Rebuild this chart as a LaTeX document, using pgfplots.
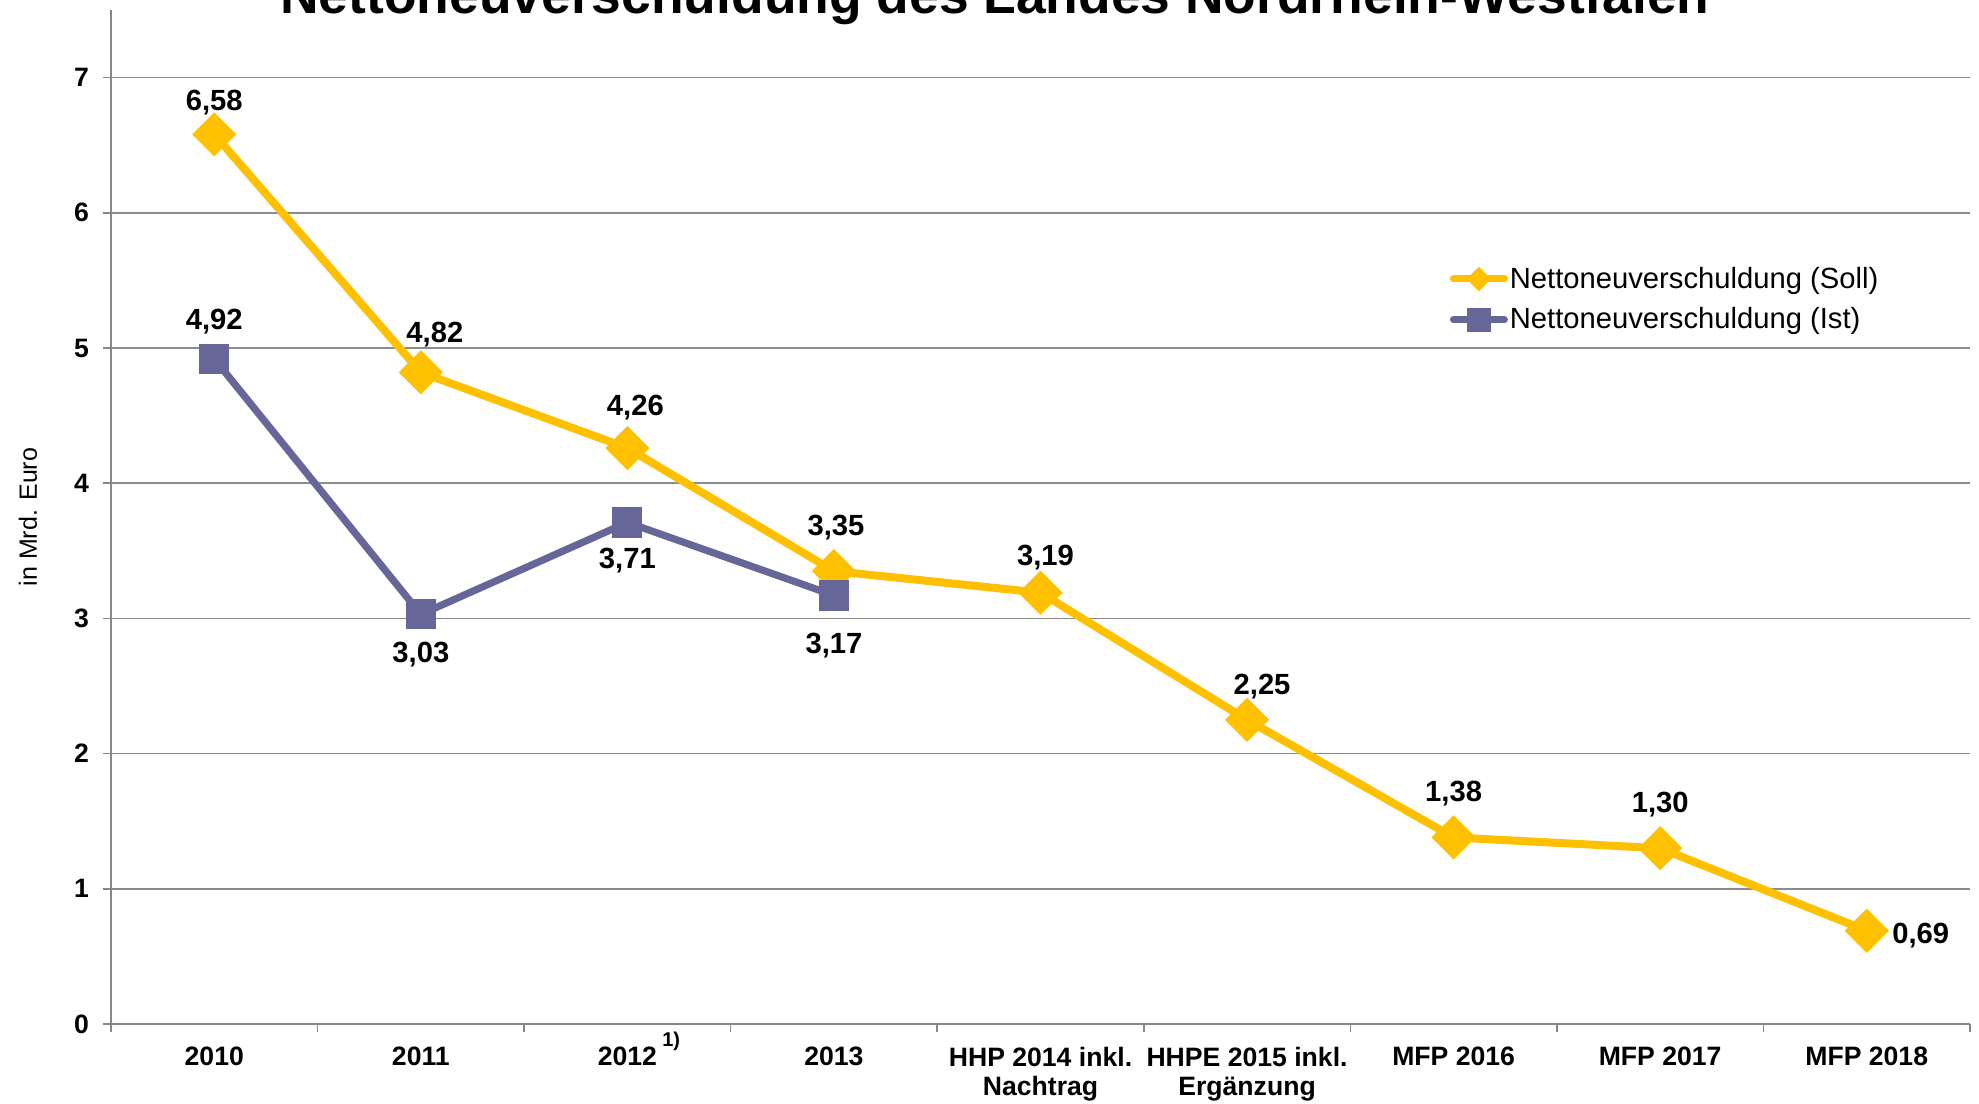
\documentclass[border=0pt]{standalone}
\usepackage{fontspec}
\setmainfont{Liberation Sans}
\usepackage{pgfplots}
\pgfplotsset{compat=1.18}
\usepackage{pgfplotstable}
\definecolor{soll}{HTML}{FFC000}
\definecolor{ist}{HTML}{666699}
\definecolor{axgray}{HTML}{868686}
\definecolor{gridgray}{HTML}{8C8C8C}

\pgfplotstableread{
x y dx dy lab
0 6.58 0 16 6,58
1 4.82 7 19 4,82
2 4.26 4 20 4,26
3 3.35 1 22 3,35
4 3.19 2.5 17.8 3,19
5 2.25 7.5 16.6 2,25
6 1.38 0 21.9 1,38
7 1.30 0 21.6 1,30
8 0.69 27 -2.6 0,69
}\tabsoll

\pgfplotstableread{
x y dx dy lab
0 4.92 0 18.5 4,92
1 3.03 0 -19.9 3,03
2 3.71 0 -19 3,71
3 3.17 0 -25 3,17
}\tabist

\begin{document}
\begin{tikzpicture}
\begin{axis}[
  name=ax,
  scale only axis,
  width=929.5pt, height=507pt,
  xmin=-0.5, xmax=8.5, ymin=0, ymax=7.5,
  axis lines*=left,
  axis line style={axgray, line width=1pt},
  ytick={0,...,7},
  ymajorgrids,
  major grid style={gridgray, line width=0.75pt},
  xtick={0,...,8},
  xticklabels={2010, 2011, 2012\rlap{\smash{\hspace{0.2em}\raisebox{0.72em}{\fontsize{10}{10}\selectfont 1)}}}, 2013, {HHP 2014 inkl.\\Nachtrag}, {HHPE 2015 inkl.\\Ergänzung}, MFP 2016, MFP 2017, MFP 2018},
  minor xtick={-0.5,0.5,...,8.5},
  tick align=outside,
  major tick length=4pt, minor tick length=4pt,
  tick style={axgray, line width=0.75pt},
  major x tick style={draw=none},
  /pgf/number format/assume math mode=true,
  yticklabel style={font=\bfseries\fontsize{13.3}{13.3}\selectfont, xshift=-3.5pt},
  xticklabel style={font=\bfseries\fontsize{13.3}{14.6}\selectfont, align=center, anchor=north, yshift=-4pt},
  ylabel={in Mrd. Euro},
  ylabel style={at={(axis description cs:-0.0447,0.5)}, anchor=center, font=\fontsize{12.5}{13}\selectfont},
  title={Nettoneuverschuldung des Landes Nordrhein-Westfalen},
  every axis title shift=0pt,
  title style={at={(axis description cs:0.4755,1)}, anchor=base, yshift=-2pt, font=\bfseries\fontsize{26.7}{30}\selectfont},
  legend style={at={(axis description cs:0.720,0.749)}, anchor=north west, draw=none, fill=none, inner sep=0pt, row sep=6.3pt, font=\fontsize{14.6}{14.6}\selectfont, nodes={inner sep=1pt}},
  legend cell align=left,
  clip=false,
]
\addplot[soll, line width=4pt, mark=square*, mark size=5.8pt,
  mark options={draw=none, fill=soll, rotate=45},
  nodes near coords, point meta=explicit symbolic,
  visualization depends on={\thisrow{dx} \as \ldx},
  visualization depends on={\thisrow{dy} \as \ldy},
  nodes near coords style={anchor=center, xshift=\ldx pt, yshift=\ldy pt, font=\bfseries\fontsize{14.6}{14.6}\selectfont, text=black},
  legend image code/.code={
    \draw[soll, line width=3.5pt, line cap=round] (0pt,0pt) -- (25.5pt,0pt);
    \fill[soll] (12.75pt,3.25pt) -- (16pt,0pt) -- (12.75pt,-3.25pt) -- (9.5pt,0pt) -- cycle;
  }
] table[x=x, y=y, meta=lab] {\tabsoll};
\addlegendentry{Nettoneuverschuldung (Soll)}
\addplot[ist, line width=3.6pt, mark=square*, mark size=5.75pt,
  mark options={draw=none, fill=ist},
  nodes near coords, point meta=explicit symbolic,
  visualization depends on={\thisrow{dx} \as \ldx},
  visualization depends on={\thisrow{dy} \as \ldy},
  nodes near coords style={anchor=center, xshift=\ldx pt, yshift=\ldy pt, font=\bfseries\fontsize{14.6}{14.6}\selectfont, text=black},
  legend image code/.code={
    \draw[ist, line width=3.5pt, line cap=round] (0pt,0pt) -- (25.5pt,0pt);
    \fill[ist] (8.5pt,-4.25pt) rectangle (17pt,4.25pt);
  }
] table[x=x, y=y, meta=lab] {\tabist};
\addlegendentry{Nettoneuverschuldung (Ist)}
\end{axis}
\pgfresetboundingbox
\path[use as bounding box] ([xshift=-55.5pt,yshift=-39.5pt]ax.south west) rectangle ([xshift=4.5pt,yshift=5pt]ax.north east);
\end{tikzpicture}
\end{document}
